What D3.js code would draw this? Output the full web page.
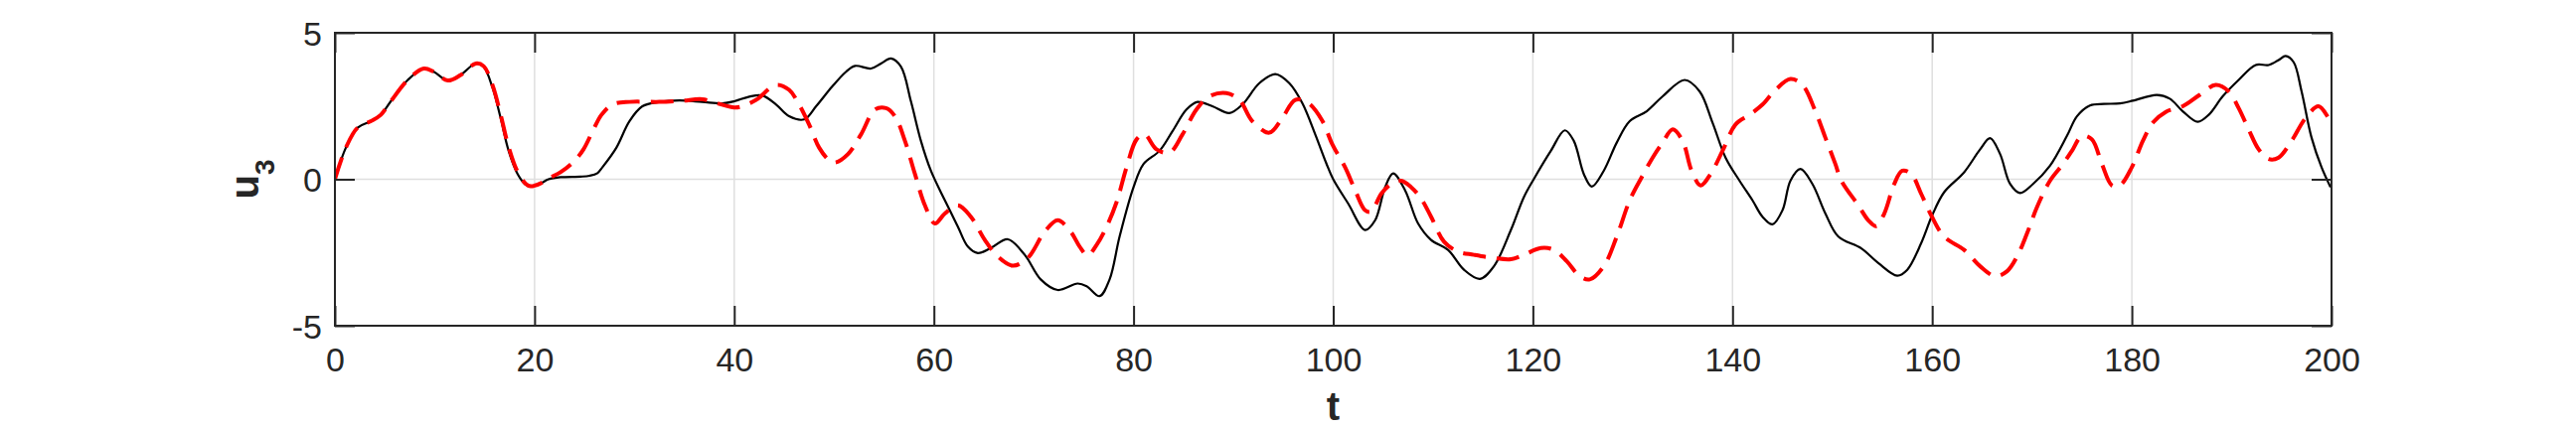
<!DOCTYPE html>
<html>
<head>
<meta charset="utf-8">
<script src="https://cdn.jsdelivr.net/npm/d3@7"></script>
<style>
html,body{margin:0;padding:0;background:#fff;}
svg{display:block;}
</style>
</head>
<body>
<svg id="chart" width="2592" height="432"></svg>
<script>
// ---- data ----
const xTicks = [0, 20, 40, 60, 80, 100, 120, 140, 160, 180, 200];
const yTicks = [-5, 0, 5];
const xLabel = "t";
const yLabelMain = "u";
const yLabelSub = "3";

const tSolid = [0,1.1,2.27,3.6,4.6,5.6,7.3,8.9,9.9,11.3,12.6,14.1,14.9,15.8,16.6,17.4,18.3,19.1,19.6,20.6,21.4,22.6,24.6,25.5,26.3,26.8,28.2,29.5,30.8,32.5,34.5,36.8,38.8,40,41.5,42.8,44.2,45.5,47,48.2,49.8,51.2,52.1,53.7,54.7,55.7,56.7,57.7,58.7,59.7,61.1,62.4,63.4,64.4,65.7,67.4,69.1,70.7,72.4,74.4,75.3,76.6,77.6,78.6,80,81,82.6,83.9,85.3,86.4,87.9,89.6,90.9,92.6,94.2,95.6,96.9,98.2,99.3,100,101.5,103.2,104.2,105.2,106,107.2,108.5,109.8,111.5,113.1,114.7,116.1,117.8,119.1,120.1,121.8,123.2,124.1,125.1,125.9,127.1,128.4,129.7,131.4,133,135.2,136.7,138,139.3,140.7,142,143,144,145,145.8,146.8,148,149.3,150.6,152.9,154.6,156.5,157.5,158.9,160,161.2,163.2,164.8,165.8,166.8,167.8,168.8,170.1,171.8,173.5,174.5,175.8,177.2,178.8,180.1,182.5,183.8,185.1,186.6,187.7,189.1,190.7,192.4,193.7,194.7,195.4,196.2,197,198,199,199.9];
const uSolid = [0,1.08,1.76,1.98,2.2,2.66,3.39,3.78,3.67,3.37,3.56,3.95,3.84,3.11,2.09,0.97,0.18,-0.18,-0.24,-0.14,0,0.07,0.09,0.12,0.21,0.41,1.08,1.98,2.49,2.64,2.69,2.64,2.59,2.66,2.82,2.86,2.55,2.15,2.04,2.49,3.16,3.67,3.87,3.78,3.95,4.12,3.84,2.66,1.31,0.29,-0.72,-1.62,-2.3,-2.52,-2.35,-2.05,-2.58,-3.42,-3.78,-3.56,-3.65,-3.99,-3.42,-1.96,-0.27,0.52,0.97,1.64,2.38,2.64,2.49,2.26,2.55,3.28,3.59,3.28,2.6,1.53,0.55,0,-0.83,-1.73,-1.4,-0.27,0.2,-0.38,-1.51,-2.07,-2.41,-3.09,-3.4,-2.97,-1.73,-0.61,0.01,0.97,1.67,1.31,0.18,-0.25,0.29,1.25,1.98,2.32,2.83,3.39,3.0,1.93,0.74,-0.05,-0.72,-1.28,-1.54,-1.06,-0.05,0.35,-0.16,-1.17,-1.96,-2.36,-2.86,-3.29,-3.09,-2.18,-1.23,-0.44,0.24,1.02,1.4,0.86,-0.16,-0.47,-0.16,0.46,1.48,2.15,2.52,2.57,2.59,2.68,2.88,2.75,2.32,1.96,2.2,2.83,3.39,3.9,3.9,4.07,4.21,4.0,3.0,1.42,0.41,-0.27];

const tDashed = [0,1.1,2.27,3.6,4.6,5.6,7.3,8.9,9.9,11.3,12.6,14.1,14.9,15.8,16.6,17.4,18.3,19.1,19.6,20.6,21.4,22.6,24,24.9,25.9,26.7,27.8,29.5,32.5,34.8,36.8,38.5,40,40.8,42.2,44.2,45.5,46.5,47.5,48.5,49.5,50.1,51.4,52.7,54.1,55.2,56.1,57.1,58.1,59.1,60.1,61.1,62.4,63.7,65.1,66.4,67.9,69.4,71.1,72.4,73.7,74.6,75.4,76.3,77.3,78.3,79.3,80.3,81.1,82.3,83.6,84.9,86.3,87.6,89.3,90.6,91.9,93.6,94.9,96.2,97.5,98.9,99.9,101.2,102.2,103.2,103.8,104.8,105.8,106.8,107.8,108.8,109.8,111.1,112.5,114.1,116.1,117.8,119.1,120.8,122.1,123.4,124.7,125.7,127.1,128.4,129.7,130.9,132,133,134,135,135.9,136.8,137.8,139,140.3,141.7,143,144.3,145.8,147,148.3,149.3,150.3,150.9,152.6,153.6,154.4,155.2,156.2,157,157.9,158.9,159.9,161.2,163.2,164.8,166.3,167.5,168.5,169.5,170.5,171.8,173.1,174,175,176,177,178,178.8,180,181.1,182.1,183.4,185.1,186.8,188.4,189.7,190.7,191.7,192.7,193.7,194.7,196,197.4,198.7,199.7,200];
const uDashed = [0,1.08,1.76,1.98,2.2,2.66,3.39,3.78,3.67,3.37,3.56,3.95,3.86,3.2,2.2,1.1,0.25,-0.15,-0.24,-0.14,0.03,0.24,0.63,1.02,1.7,2.2,2.55,2.64,2.64,2.68,2.73,2.57,2.45,2.49,2.71,3.22,3.05,2.55,1.87,1.08,0.65,0.57,0.86,1.53,2.38,2.43,2.15,1.31,0.18,-0.89,-1.51,-1.17,-0.89,-1.28,-2.07,-2.64,-2.95,-2.69,-1.79,-1.4,-1.79,-2.3,-2.6,-2.24,-1.62,-0.78,0.41,1.36,1.53,1.02,0.91,1.53,2.38,2.83,2.94,2.71,1.98,1.59,2.09,2.71,2.6,2.0,1.2,0.4,-0.38,-1.06,-1.11,-0.5,-0.16,-0.05,-0.27,-0.66,-1.28,-2.13,-2.47,-2.58,-2.69,-2.73,-2.58,-2.35,-2.41,-2.8,-3.31,-3.42,-2.97,-1.96,-0.72,0.07,0.74,1.25,1.7,1.31,0.29,-0.21,0.18,0.97,1.87,2.2,2.55,3.05,3.42,3.22,2.32,1.42,0.52,-0.05,-0.89,-1.4,-1.6,-1.17,-0.16,0.29,0.18,-0.5,-1.23,-1.96,-2.41,-2.97,-3.31,-3.14,-2.64,-1.85,-0.95,-0.05,0.52,0.97,1.48,1.36,0.52,-0.21,-0.21,0.41,1.31,1.93,2.3,2.49,2.88,3.22,3.0,2.43,1.7,1.02,0.69,0.74,1.31,2.09,2.49,2.09,1.93];

// ---- layout ----
const W = 2592, H = 432;
const L = 337, R = 2346, T = 33, B = 328;
const axisColor = "#262626";
const font = "'Liberation Sans', Arial, Helvetica, sans-serif";

const svg = d3.select("#chart");
svg.append("rect").attr("width", W).attr("height", H).attr("fill", "#fff");

const x = d3.scaleLinear().domain([0, 200]).range([L, R]);
const y = d3.scaleLinear().domain([-5, 5]).range([B, T]);

// grid
const grid = svg.append("g");
grid.selectAll("line.gx").data(xTicks).join("line")
  .attr("x1", d => x(d)).attr("x2", d => x(d)).attr("y1", T).attr("y2", B)
  .attr("stroke", "#dfdfdf").attr("stroke-width", 1.5);
grid.selectAll("line.gy").data(yTicks).join("line")
  .attr("y1", d => y(d)).attr("y2", d => y(d)).attr("x1", L).attr("x2", R)
  .attr("stroke", "#dfdfdf").attr("stroke-width", 1.5);

// data lines
svg.append("clipPath").attr("id", "clip").append("rect")
  .attr("x", L).attr("y", T).attr("width", R - L).attr("height", B - T);
const plot = svg.append("g").attr("clip-path", "url(#clip)");

const solidPts = tSolid.map((t, i) => [t, uSolid[i]]);
const dashedPts = tDashed.map((t, i) => [t, uDashed[i]]);
const line = d3.line().x(d => x(d[0])).y(d => y(d[1])).curve(d3.curveCatmullRom.alpha(0.5));

plot.append("path").attr("d", line(solidPts))
  .attr("fill", "none").attr("stroke", "#000").attr("stroke-width", 2.2)
  .attr("stroke-linejoin", "round");
plot.append("path").attr("d", line(dashedPts))
  .attr("fill", "none").attr("stroke", "#ff0000").attr("stroke-width", 4)
  .attr("stroke-dasharray", "23,11");

// axes with inward ticks
const tick = 20;
function styleAxis(g) {
  g.select(".domain").remove();
  g.selectAll(".tick line").attr("stroke", axisColor).attr("stroke-width", 2);
  g.selectAll("text").attr("fill", axisColor).style("font-family", font).style("font-size", "34px");
}
svg.append("g").attr("transform", `translate(0,${B})`)
  .call(d3.axisBottom(x).tickValues(xTicks).tickSize(-tick).tickFormat(d3.format("d")))
  .call(styleAxis)
  .call(g => g.selectAll("text").attr("y", 46).attr("dy", null));
svg.append("g").attr("transform", `translate(0,${T})`)
  .call(d3.axisTop(x).tickValues(xTicks).tickSize(-tick).tickFormat(""))
  .call(styleAxis);
svg.append("g").attr("transform", `translate(${L},0)`)
  .call(d3.axisLeft(y).tickValues(yTicks).tickSize(-tick).tickFormat(d => d < 0 ? "-" + Math.abs(d) : String(d)))
  .call(styleAxis)
  .call(g => g.selectAll("text").attr("x", -13).attr("dy", "0.36em"));
svg.append("g").attr("transform", `translate(${R},0)`)
  .call(d3.axisRight(y).tickValues(yTicks).tickSize(-tick).tickFormat(""))
  .call(styleAxis);

// box
svg.append("rect").attr("x", L).attr("y", T).attr("width", R - L).attr("height", B - T)
  .attr("fill", "none").attr("stroke", axisColor).attr("stroke-width", 2);

// labels
svg.append("text").attr("x", (L + R) / 2).attr("y", 423)
  .attr("text-anchor", "middle").attr("fill", axisColor)
  .style("font-family", font).style("font-size", "40px").style("font-weight", "bold")
  .text(xLabel);

const yl = svg.append("text")
  .attr("transform", `translate(260,${(T + B) / 2}) rotate(-90)`)
  .attr("text-anchor", "middle").attr("fill", axisColor)
  .style("font-family", font).style("font-size", "40px").style("font-weight", "bold");
yl.append("tspan").text(yLabelMain);
yl.append("tspan").attr("dy", 16).style("font-size", "28px").text(yLabelSub);
</script>
</body>
</html>
